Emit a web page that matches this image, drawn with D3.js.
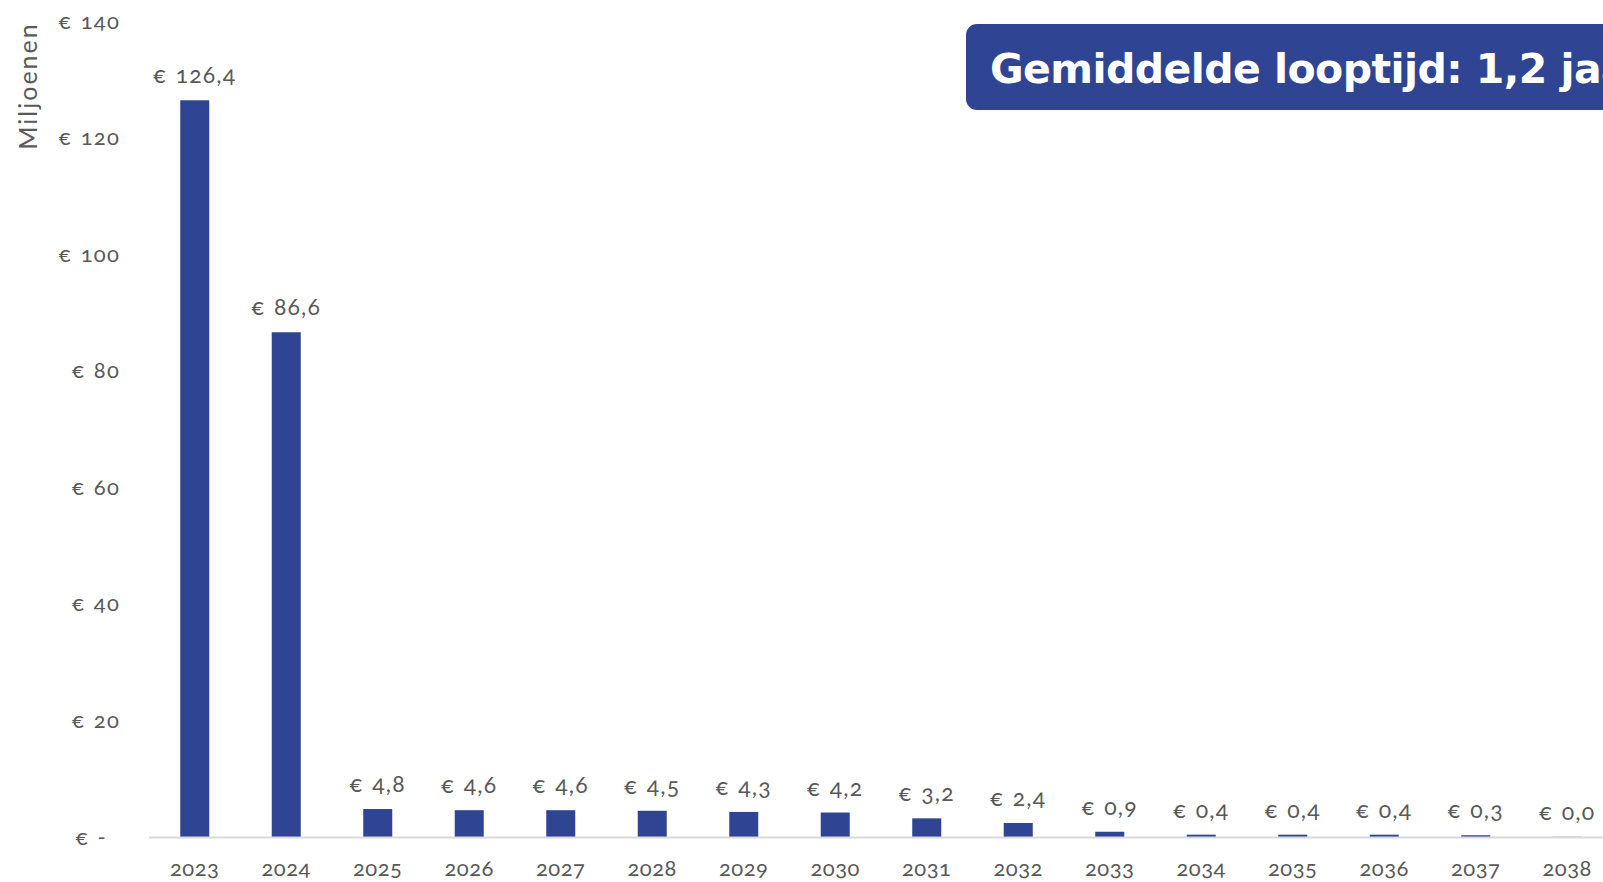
<!DOCTYPE html>
<html>
<head>
<meta charset="utf-8">
<script src="https://cdn.jsdelivr.net/npm/d3@7"></script>
<style>
  html, body { margin: 0; padding: 0; background: #fff; overflow: hidden; }
  svg { display: block; font-family: "Lato", "Open Sans", sans-serif; }
  .num { font-variant-numeric: oldstyle-nums; }
</style>
</head>
<body>
<svg id="chart" width="1603" height="882"></svg>
<script>
// Aflossingen per jaar (in miljoenen euro)
const years = ["2023","2024","2025","2026","2027","2028","2029","2030","2031","2032","2033","2034","2035","2036","2037","2038"];
const amounts = [126.4, 86.6, 4.8, 4.6, 4.6, 4.5, 4.3, 4.2, 3.2, 2.4, 0.9, 0.4, 0.4, 0.4, 0.3, 0.04];
const yTicks = [0, 20, 40, 60, 80, 100, 120, 140];
const axisTitle = "Miljoenen";
const badgeText = "Gemiddelde looptijd: 1,2 jaar";

const barColor = "#2F4593";
const textColor = "#595959";

const svg = d3.select("#chart");

const x = d3.scaleBand()
  .domain(years)
  .range([149, 1613])
  .paddingInner(0.683)
  .paddingOuter(0.3415);

const y = d3.scaleLinear()
  .domain([0, 140])
  .range([837, 21]);

const fmt = v => "€ " + d3.format(".1f")(v).replace(".", ",");
const tickFmt = v => v === 0 ? "€ -" : "€ " + v;

// Y axis (labels only)
const yAxis = svg.append("g")
  .attr("transform", "translate(120,0)")
  .call(d3.axisLeft(y).tickValues(yTicks).tickFormat(tickFmt).tickSize(0).tickPadding(0));
yAxis.select(".domain").remove();
yAxis.selectAll("text")
  .attr("class", "num")
  .attr("fill", textColor)
  .attr("font-size", 22)
  .attr("dx", d => d === 0 ? -13 : 0)
  .style("font-family", "Lato, sans-serif")
  .style("letter-spacing", "1.2px")
  .style("word-spacing", "2px");

// Axis title
svg.append("text")
  .attr("transform", "translate(37,86) rotate(-90)")
  .attr("text-anchor", "middle")
  .attr("fill", textColor)
  .attr("font-size", 25)
  .style("letter-spacing", "2px")
  .text(axisTitle);

// Bars
svg.append("g").selectAll("rect")
  .data(amounts)
  .join("rect")
  .attr("x", (d, i) => x(years[i]))
  .attr("width", x.bandwidth())
  .attr("y", d => y(d))
  .attr("height", d => y(0) - y(d))
  .attr("fill", barColor);

// Baseline
svg.append("line")
  .attr("x1", 149).attr("x2", 1603)
  .attr("y1", y(0) + 0.5).attr("y2", y(0) + 0.5)
  .attr("stroke", "#D9D9D9")
  .attr("stroke-width", 2);

// X axis labels
const xAxis = svg.append("g")
  .attr("transform", `translate(0,${y(0)})`)
  .call(d3.axisBottom(x).tickSize(0).tickPadding(23));
xAxis.select(".domain").remove();
xAxis.selectAll("text")
  .attr("class", "num")
  .attr("fill", textColor)
  .attr("font-size", 22)
  .style("font-family", "Lato, sans-serif")
  .style("letter-spacing", "0.5px");

// Value labels
svg.append("g").selectAll("text")
  .data(amounts)
  .join("text")
  .attr("class", "num")
  .attr("x", (d, i) => x(years[i]) + x.bandwidth() / 2)
  .attr("y", d => y(d) - 17)
  .attr("text-anchor", "middle")
  .attr("fill", textColor)
  .attr("font-size", 23)
  .style("letter-spacing", "1.1px")
  .style("word-spacing", "2px")
  .text(d => fmt(d));

// Badge with the average maturity
const badge = svg.append("g");
badge.append("rect")
  .attr("x", 966).attr("y", 24)
  .attr("width", 700).attr("height", 86)
  .attr("rx", 11).attr("ry", 11)
  .attr("fill", barColor);
const badgeLabel = badge.append("text")
  .attr("x", 990).attr("y", 83)
  .attr("fill", "#fff")
  .attr("font-size", 41)
  .attr("font-weight", 700)
  .style("font-family", "'DejaVu Sans', sans-serif")
  .text(badgeText);

// Fit the bold label so that "… 1,2 ja" runs to the right edge
const shown = badgeText.length - 2;
const natural = badgeLabel.node().getSubStringLength(0, shown);
const spacing = (1601 - 990 - natural) / shown;
badgeLabel.style("letter-spacing", `${spacing}px`);
</script>
</body>
</html>
